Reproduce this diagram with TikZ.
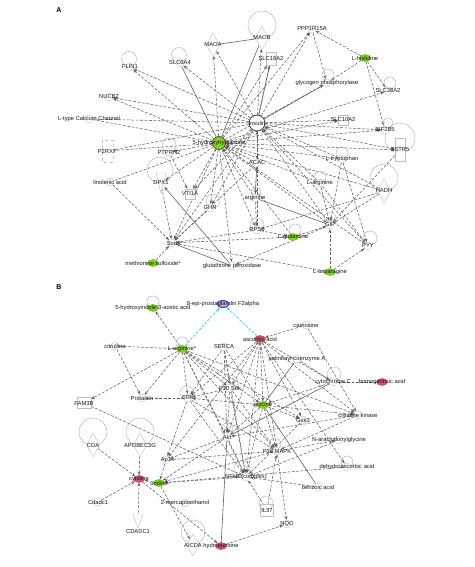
\documentclass[tikz,border=0pt]{standalone}
\usepackage{fontspec}
\setmainfont{Liberation Sans}
\usetikzlibrary{arrows.meta,shapes.geometric}
\definecolor{lg}{HTML}{7ED321}
\definecolor{rdp}{HTML}{D9506A}
\definecolor{ln}{HTML}{626262}
\definecolor{cy}{HTML}{3FD9D0}
\definecolor{bl}{HTML}{3434C8}
\pgfdeclarelayer{back}
\pgfdeclarelayer{bg}
\pgfsetlayers{back,bg,main}
\newcommand\nn[4]{\node[#1,label={[lbl]center:#4}] (#2) at (#3) {};}
\begin{document}
\begin{tikzpicture}[x=1pt,y=-1pt,
 lbl/.style={font=\fontsize{5.8}{6.5}\selectfont, inner sep=0pt, text=black!90},
 nd/.style={circle, draw=gray!50, fill=white, line width=.4pt, minimum size=8pt, inner sep=0pt},
 inv/.style={circle, minimum size=10pt, inner sep=0pt},
 gnd/.style={ellipse, draw=lg!85!black, fill=lg, minimum width=11pt, minimum height=7pt, inner sep=0pt},
 rnd/.style={ellipse, draw=rdp!85!black, fill=rdp, minimum width=11pt, minimum height=7pt, inner sep=0pt},
 bnd/.style={ellipse, draw=bl, line width=.9pt, fill=blue!30!violet!35, minimum width=12pt, minimum height=7pt, inner sep=0pt},
 dia/.style={diamond, draw=gray!50, fill=white, line width=.4pt, minimum width=13pt, minimum height=24pt, inner sep=0pt},
 bx/.style={rectangle, draw=gray!50, fill=white, line width=.4pt, minimum width=10pt, minimum height=22pt, inner sep=0pt},
 shp/.style={draw=gray!50, fill=white, line width=.4pt},
 lpc/.style={draw=gray!60, line width=.45pt},
 da/.style={draw=ln, line width=.55pt, dash pattern=on 2.8pt off 1.6pt, -{Stealth[length=3.8pt,width=3pt]}},
 dl/.style={draw=ln, line width=.55pt, dash pattern=on 2.8pt off 1.6pt},
 so/.style={draw=ln, line width=.6pt, -{Stealth[length=3.8pt,width=3pt]}},
 sl/.style={draw=ln, line width=.6pt},
 ca/.style={draw=cy, line width=.8pt, dash pattern=on 2.6pt off 1.6pt, -{Stealth[length=4pt,width=3pt]}},
 pl/.style={font=\bfseries\fontsize{7}{8}\selectfont, inner sep=0pt}
]
\begin{pgfonlayer}{back}
\fill[white] (0,0) rectangle (474,567);
\end{pgfonlayer}
\useasboundingbox (0,0) rectangle (474,567);
\node[pl] (pa) at (59,10) {A};
\node[pl] (pb) at (59,287) {B};
% ---------------- panel A: loops and shapes under nodes
\draw[lpc] (129,59) circle (7.5pt);
\draw[lpc] (179,55) circle (7.5pt);
\draw[lpc] (262,25) circle (14pt);
\draw[lpc] (328,75) circle (6pt);
\draw[lpc] (390,83) circle (6pt);
\draw[lpc] (388,123) circle (5pt);
\draw[lpc] (400,138) circle (15pt);
\draw[lpc] (342,153) circle (6pt);
\draw[lpc] (320,177) circle (6pt);
\draw[lpc] (384,178) circle (14pt);
\draw[lpc] (330,218) circle (6pt);
\draw[lpc] (370,238) circle (7pt);
\draw[lpc] (295,230) circle (6pt);
\draw[lpc] (257,225) circle (7pt);
\draw[lpc] (169,145) circle (7pt);
\draw[lpc] (160,170) circle (13pt);
\draw[lpc] (213,201) circle (7pt);
\draw[lpc] (256,192) circle (5pt);
\draw[shp] (156,173) -- (166,173) -- (161,193) -- cycle;
\draw[shp, dashed] (102,140) rectangle (113,162);
% ---------------- panel B loops/shapes
\draw[lpc] (153,302) circle (6pt);
\draw[lpc] (182,343) circle (6pt);
\draw[lpc] (230,383) circle (8pt);
\draw[lpc] (334,374) circle (7pt);
\draw[lpc] (347,462) circle (6pt);
\draw[lpc] (93,432) circle (14pt);
\draw[lpc] (140,432) circle (14pt);
\draw[lpc] (193,532) circle (12pt);
\draw[lpc] (275,444) circle (6pt);
\draw[lpc] (242,469) circle (8pt);
\draw[lpc] (227,429) circle (6pt);
\draw[lpc] (187,393) circle (7pt);
\draw[shp] (260,504) rectangle (273,516);
\draw[lpc] (266,503) circle (7pt);
\draw[shp] (133,514) -- (143,514) -- (138,528) -- cycle;
% ================= panel A nodes
\nn{dia}{MAOA}{213,45}{MAOA}
\nn{dia}{MAOB}{262,38}{MAOB}
\nn{nd}{PPP}{312,29}{PPP1R15A}
\nn{gnd}{LHIS}{365,58}{L-histidine}
\nn{bx,minimum height=13pt}{SLC18}{271,59}{SLC18A2}
\nn{nd}{GLYP}{327,83}{glycogen phosphorylase}
\nn{nd}{SLC38}{388,91}{SLC38A2}
\nn{bx,minimum height=10pt}{SLC10}{343,120}{SLC10A2}
\nn{nd}{EIF}{385,130}{EIF2B5}
\nn{bx,minimum height=23pt}{SSTR}{400,150}{SSTR5}
\nn{nd}{FLIN}{130,67}{FLIN1}
\nn{nd}{SLC6}{180,63}{SLC6A4}
\nn{nd}{NUCB}{109,97}{NUCB2}
\nn{nd}{LTCC}{89,119}{L-type Calcium Channel}
\nn{inv}{P2RX}{107,151}{P2RX7}
\nn{nd}{PTPR}{169,152}{PTPRN2}
\nn{nd}{LINO}{110,182}{linolenic acid}
\nn{inv}{GPX}{161,183}{DPX1}
\nn{bx,minimum height=10pt}{VTI}{190,194}{VTI1A}
\nn{nd}{GHR}{210,208}{GHR}
\nn{nd}{SOD}{172,243}{Sod}
\nn{gnd}{METS}{153,263}{methionine sulfoxide*}
\nn{nd}{GPXP}{232,266}{glutathione peroxidase}
\nn{nd}{ACAC}{257,163}{ACAC}
\nn{nd}{ARGN}{255,198}{arginine}
\nn{nd}{LTRP}{342,159}{L-tryptophan}
\nn{nd}{LARG}{320,183}{L-arginine}
\nn{dia}{HADH}{384,191}{HADH}
\nn{nd}{GIP}{330,225}{GIP}
\nn{nd}{RPS}{257,230}{RPS6}
\nn{gnd}{LGLN}{293,237}{L-glutamine}
\nn{nd}{PYY}{368,246}{PYY}
\nn{gnd}{LASN}{330,272}{L-asparagine}
\node[circle, draw=gray!60!black, line width=.9pt, fill=white, minimum size=16pt, inner sep=0pt, label={[lbl]center:Insulin}] (INS) at (257,123) {};
\node[circle, draw=gray!60!black, line width=.8pt, fill=lg, minimum size=13pt, inner sep=0pt, label={[lbl]center:5-hydroxytryptamine}] (HT) at (219,143) {};
% ================= panel B nodes
\nn{gnd}{HIAA}{153,308}{5-hydroxyindole-3-acetic acid}
\nn{bnd}{EPI}{223,304}{8-epi-prostaglandin F2alpha}
\nn{nd}{CIT}{115,346}{citrulline}
\nn{gnd}{LARGS}{182,349}{L-arginine*}
\nn{nd}{SERCA}{224,347}{SERCA}
\nn{rnd}{ASC}{260,339}{ascorbic acid}
\nn{nd}{CARN}{306,325}{carnosine}
\nn{nd}{PALM}{297,359}{palmitoyl-coenzyme A}
\nn{nd}{CYTC}{333,382}{cytochrome C}
\nn{rnd}{HGA}{382,382}{homogentisic acid}
\nn{bx,minimum width=14pt,minimum height=11pt}{FAM}{84,403}{FAM3B}
\nn{nd}{PRL}{142,398}{Prolactin}
\nn{nd}{ERK}{188,398}{ERK}
\nn{nd}{P70}{230,388}{P70 S6k}
\nn{gnd}{GLY}{263,405}{glycine}
\nn{nd}{GSK}{303,420}{Gsk3}
\nn{nd}{CK}{358,415}{creatine kinase}
\nn{nd}{NAG}{339,440}{N-arachidonylglycine}
\nn{nd}{DHA}{347,467}{dehydroascorbic acid}
\nn{nd}{BENZ}{318,487}{benzoic acid}
\nn{nd}{P38}{277,451}{P38 MAPK}
\nn{nd}{NFKB}{246,477}{NFkB (complex)}
\nn{inv}{IL}{267,510}{IL37}
\nn{nd}{NQO}{287,524}{NQO}
\nn{nd}{AKT}{227,437}{Akt}
\nn{nd}{AP1}{166,460}{Ap1}
\nn{dia}{CDA}{93,445}{CDA}
\nn{dia}{APO}{140,445}{APOBEC3G}
\nn{rnd}{CYT}{139,479}{cytidine}
\nn{gnd}{URI}{159,483}{uridine}
\nn{nd}{CDC}{98,502}{Cdadc1}
\nn{nd}{MERC}{185,503}{2-mercaptoethanol}
\nn{inv}{CDAD}{138,531}{CDADC1}
\nn{dia,minimum height=22pt}{AICDA}{193,545}{AICDA}
\nn{rnd}{HQ}{221,546}{hydroquinone}
% ================= edges
\begin{pgfonlayer}{bg}
\foreach \a/\b in {HT/FLIN, HT/NUCB, HT/PTPR, HT/GPX, HT/VTI, HT/GHR, HT/SOD, HT/GPXP, HT/RPS, LGLN/HT, HT/GIP, PYY/HT, ARGN/HT, LTRP/HT, LARG/HT, HT/SSTR, HT/EIF, HT/SLC10, HT/SLC38, HT/GLYP, HT/PPP, HT/SLC18, HT/MAOA, ACAC/HT, HADH/HT,
 INS/FLIN, INS/SLC6, INS/NUCB, INS/MAOA, INS/MAOB, INS/SLC18, INS/PPP, INS/SLC10, INS/EIF, INS/SSTR, INS/ACAC, LARG/INS, HADH/INS, GIP/INS, INS/PYY, RPS/INS, LTRP/INS, INS/SOD, INS/GHR, INS/VTI,
 LHIS/PPP, LHIS/GLYP, LHIS/SLC38, LHIS/EIF, PPP/GLYP, LINO/SOD, PTPR/VTI, GPX/SOD, METS/SOD, GHR/SOD, RPS/SOD, LGLN/SOD, ACAC/ARGN, ARGN/ACAC, LASN/GIP, LASN/PYY, LASN/SOD, LGLN/GIP, LARG/GIP, LTRP/GIP, LTRP/PYY, HADH/GIP, GIP/GPXP, SSTR/GIP, LARG/PYY, RPS/LGLN, ARGN/RPS, HADH/RPS}
 \draw[da] (\a) -- (\b);
\foreach \a/\b in {HT/LTCC, HT/P2RX, INS/LTCC, INS/P2RX, HT/LINO, SOD/ACAC}
 \draw[dl] (\a) -- (\b);
\foreach \a/\b in {HT/MAOB, HT/SLC6, MAOA/MAOB, ARGN/GIP, SOD/GPXP, INS/SLC18}
 \draw[sl] (\a) -- (\b);
\draw[so] (INS) -- (GLYP);
\draw[so] (GPXP) -- (GPX);
% panel B
\draw[ca] (LARGS) -- (EPI);
\draw[ca] (ASC) -- (EPI);
\foreach \a/\b in {LARGS/HIAA, CIT/PRL, LARGS/FAM, LARGS/PRL, LARGS/ERK, LARGS/AKT, LARGS/P70, LARGS/NFKB, LARGS/P38, LARGS/GLY, LARGS/CK, LARGS/GSK,
 CARN/ASC, CARN/CK, ASC/CYTC, ASC/ERK, ASC/P70, ASC/GLY, ASC/AKT, ASC/P38, ASC/NFKB, ASC/CK, ASC/GSK, ASC/DHA, ASC/AP1,
 PALM/CYTC, CYTC/GLY, SERCA/ERK, SERCA/P70, SERCA/AKT, SERCA/NFKB, P70/ERK, P70/AKT, P70/P38, P70/NFKB,
 GLY/GSK, GLY/CK, GLY/AKT, GLY/P38, GLY/NFKB, GLY/ERK, CK/P38, P38/NAG, BENZ/NFKB, P38/NQO, IL/P38, IL/NFKB, HQ/NQO,
 ERK/AP1, AKT/AP1, P38/AP1, AP1/URI, AKT/URI, NFKB/URI, P38/URI, DHA/URI, CK/AKT, NAG/NFKB,
 CDA/CYT, APO/CYT, CDC/CYT, CDAD/CYT, URI/CYT, CYT/HQ, URI/AICDA, ERK/NFKB, ERK/P38, AKT/NFKB, FAM/NFKB, GSK/NFKB}
 \draw[da] (\a) -- (\b);
\foreach \a/\b in {CIT/LARGS, HGA/CYTC, PRL/ERK, SERCA/GLY}
 \draw[dl] (\a) -- (\b);
\foreach \a/\b in {PALM/GLY, CYTC/AKT, GLY/BENZ, HQ/AKT}
 \draw[sl] (\a) -- (\b);
\end{pgfonlayer}
\end{tikzpicture}
\end{document}
